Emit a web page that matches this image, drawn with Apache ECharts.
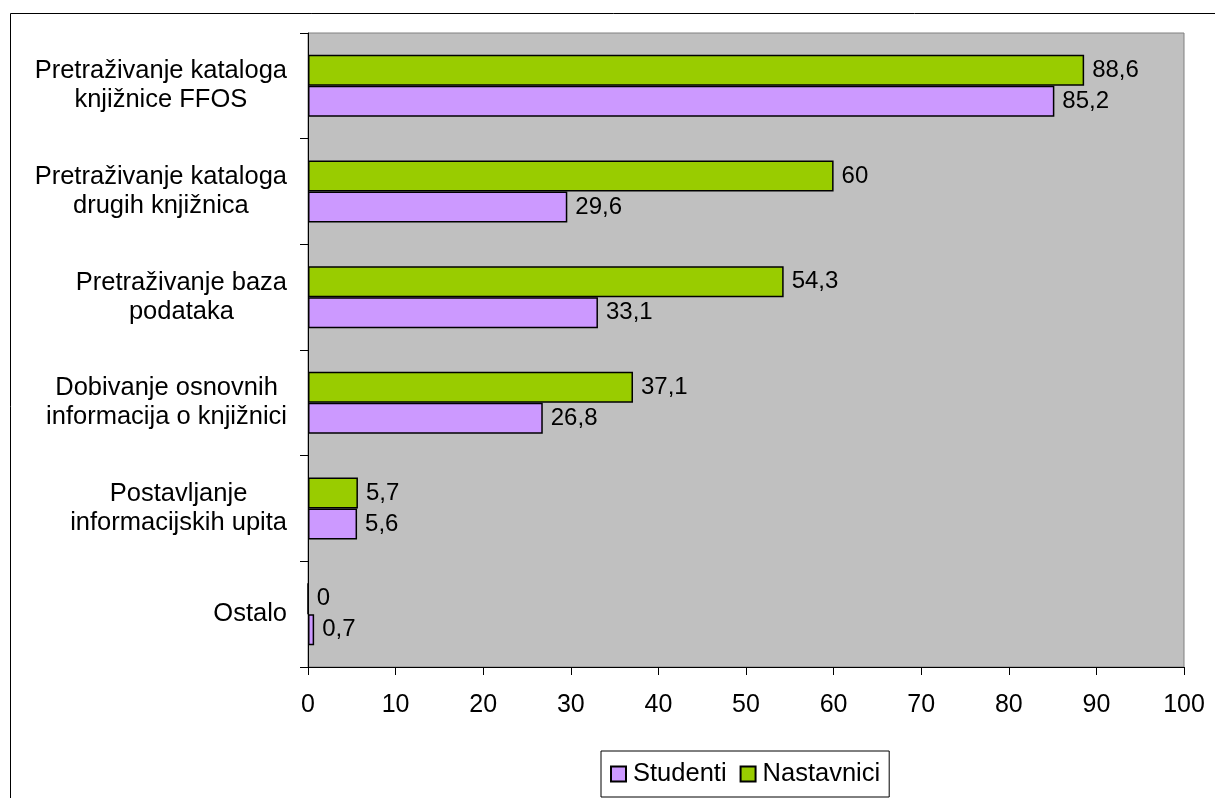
<!DOCTYPE html>
<html>
<head>
<meta charset="utf-8">
<script src="https://cdn.jsdelivr.net/npm/echarts@6/dist/echarts.min.js"></script>
<style>
  html, body { margin: 0; padding: 0; background: #fff; }
  #main { width: 1215px; height: 798px; }
</style>
</head>
<body>
<div id="main"></div>
<script>
// kategorije (odozgo prema dolje)
var categories = [
  'Pretraživanje kataloga\nknjižnice FFOS',
  'Pretraživanje kataloga\ndrugih knjižnica',
  'Pretraživanje baza\npodataka',
  'Dobivanje osnovnih\ninformacija o knjižnici',
  'Postavljanje\ninformacijskih upita',
  'Ostalo'
];
var studenti = [85.2, 29.6, 33.1, 26.8, 5.6, 0.7];
var nastavnici = [88.6, 60, 54.3, 37.1, 5.7, 0];
var xMin = 0, xMax = 100, xStep = 10;

var FONT = "'Liberation Sans', Arial, sans-serif";

var chart = echarts.init(document.getElementById('main'));

// zarez kao decimalni separator
function fmt(v) {
  return String(v).replace('.', ',');
}

var labelStyle = {
  show: true,
  position: 'right',
  distance: 8,
  color: '#000',
  fontFamily: FONT,
  fontSize: 24,
  formatter: function (p) { return fmt(p.value); }
};

var option = {
  animation: false,
  backgroundColor: '#fff',
  graphic: [{
    // vanjski okvir grafikona
    type: 'rect',
    silent: true,
    shape: { x: 10.5, y: 13.5, width: 1400, height: 1000 },
    style: { fill: 'none', stroke: '#000', lineWidth: 1 }
  }],
  grid: {
    left: 308, right: 31, top: 33, bottom: 131,
    show: true,
    backgroundColor: '#c0c0c0',
    borderColor: '#808080',
    borderWidth: 1
  },
  legend: {
    data: ['Studenti', 'Nastavnici'],
    left: 601,
    top: 751,
    orient: 'horizontal',
    backgroundColor: '#fff',
    borderColor: '#000',
    borderWidth: 1,
    borderRadius: 0,
    padding: [10, 9, 10, 9],
    itemWidth: 15,
    itemHeight: 15,
    itemGap: 13,
    icon: 'rect',
    textStyle: { color: '#000', fontFamily: FONT, fontSize: 25.5, padding: [0, 0, 0, 2] }
  },
  xAxis: {
    type: 'value',
    min: xMin,
    max: xMax,
    interval: xStep,
    axisLine: { show: true, lineStyle: { color: '#000', width: 1 } },
    axisTick: { show: true, length: 8, lineStyle: { color: '#000' } },
    splitLine: { show: false },
    axisLabel: { color: '#000', fontFamily: FONT, fontSize: 25, margin: 26 }
  },
  yAxis: {
    type: 'category',
    inverse: true,
    data: categories,
    axisLine: { show: true, lineStyle: { color: '#000', width: 1 } },
    axisTick: { show: true, length: 8, lineStyle: { color: '#000' } },
    splitLine: { show: false },
    axisLabel: {
      margin: 21,
      formatter: function (v) {
        return v.split('\n').map(function (s) { return '{c|' + s + '}'; }).join('\n');
      },
      rich: {
        c: { align: 'center', color: '#000', fontFamily: FONT, fontSize: 25.5, lineHeight: 29 }
      }
    }
  },
  series: [
    {
      name: 'Nastavnici',
      type: 'bar',
      data: nastavnici,
      barWidth: 31,
      barGap: '0%',
      itemStyle: { color: '#99cc00', borderColor: '#000', borderWidth: 1.5 },
      label: labelStyle
    },
    {
      name: 'Studenti',
      type: 'bar',
      data: studenti,
      barWidth: 31,
      barGap: '0%',
      itemStyle: { color: '#cc99ff', borderColor: '#000', borderWidth: 1.5 },
      label: labelStyle
    }
  ]
};

chart.setOption(option);
</script>
</body>
</html>
